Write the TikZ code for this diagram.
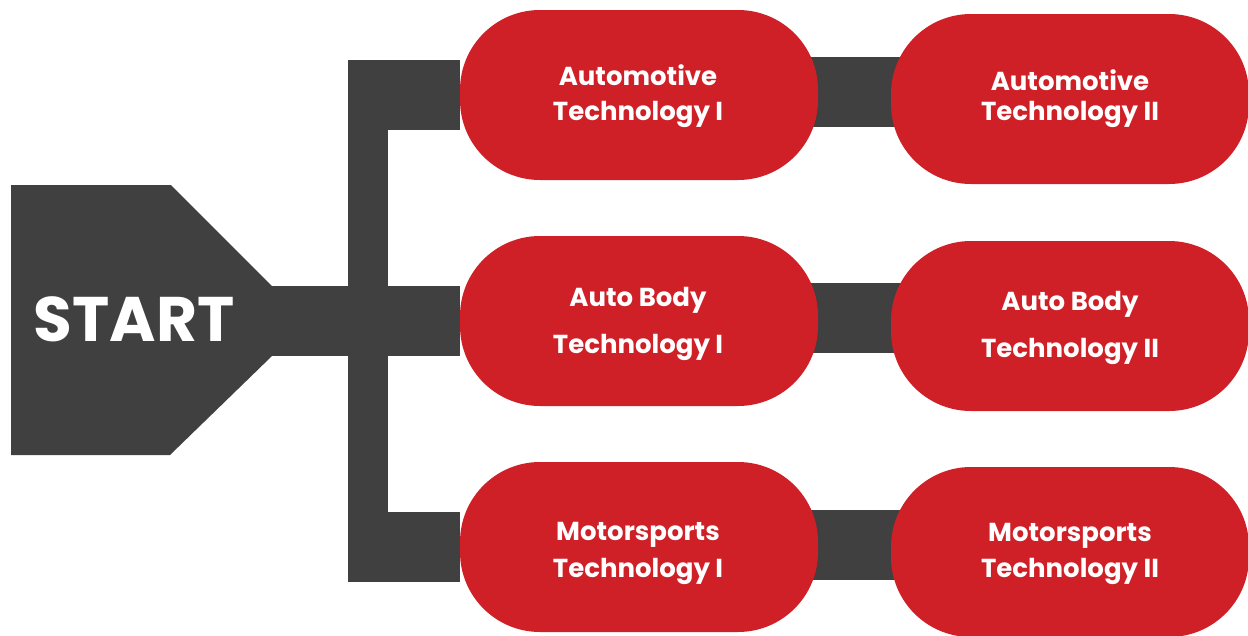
\documentclass[tikz,border=0pt]{standalone}
\usepackage{fontspec}
\setmainfont{Poppins}
\usetikzlibrary{backgrounds}
\definecolor{dgray}{HTML}{404040}
\definecolor{rred}{HTML}{CF2027}
\begin{document}
\begin{tikzpicture}[x=1pt,y=-1pt,
 box/.style={fill=rred, rounded corners=80pt, minimum width=358pt, minimum height=170pt, inner sep=0pt},
 conn/.style={draw=dgray, line width=70pt},
 bar/.style={draw=dgray, line width=40pt},
 txt/.style={text=white, font=\bfseries\fontsize{26}{26}\selectfont, anchor=base, inner sep=0pt},
 bigtxt/.style={text=white, font=\bfseries\fontsize{63}{63}\selectfont, anchor=base, inner sep=0pt},
]
\useasboundingbox (0,0) rectangle (1248,635);
% boxes
\node[box] (a1) at (639,95) {};
\node[box] (a2) at (1070,99) {};
\node[box] (b1) at (639,321) {};
\node[box] (b2) at (1070,326) {};
\node[box] (c1) at (639,547) {};
\node[box] (c2) at (1070,552) {};
% start shape
\fill[dgray] (11,185) -- (171,185) -- (272,286) -- (272,356) -- (170,455) -- (11,455) -- cycle;
\node[bigtxt] (start) at (134,341) {START};
% coordinates
\coordinate (sj) at (270,321);
\coordinate (bt) at (368,60);
\coordinate (bb) at (368,582);
\coordinate (tj) at (348,95);
\coordinate (lj) at (348,547);
\coordinate (r1) at (0,92);
\coordinate (r2) at (0,318);
\coordinate (r3) at (0,545);
% texts
\node[txt] (a1t1) at (638,85) {Automotive};
\node[txt] (a1t2) at (638,120) {Technology I};
\node[txt] (a2t1) at (1070,90) {Automotive};
\node[txt] (a2t2) at (1070,120) {Technology II};
\node[txt] (b1t1) at (638,306) {Auto Body};
\node[txt] (b1t2) at (638,353) {Technology I};
\node[txt] (b2t1) at (1070,310) {Auto Body};
\node[txt] (b2t2) at (1070,357) {Technology II};
\node[txt] (c1t1) at (638,540) {Motorsports};
\node[txt] (c1t2) at (638,577) {Technology I};
\node[txt] (c2t1) at (1070,541) {Motorsports};
\node[txt] (c2t2) at (1070,577) {Technology II};
\begin{pgfonlayer}{background}
\draw[bar] (bt) -- (bb);
\draw[conn] (tj) -- (a1);
\draw[conn] (sj) -- (b1);
\draw[conn] (lj) -- (c1);
\draw[conn] (a1.center |- r1) -- (a2.center |- r1);
\draw[conn] (b1.center |- r2) -- (b2.center |- r2);
\draw[conn] (c1.center |- r3) -- (c2.center |- r3);
\end{pgfonlayer}
\end{tikzpicture}
\end{document}
